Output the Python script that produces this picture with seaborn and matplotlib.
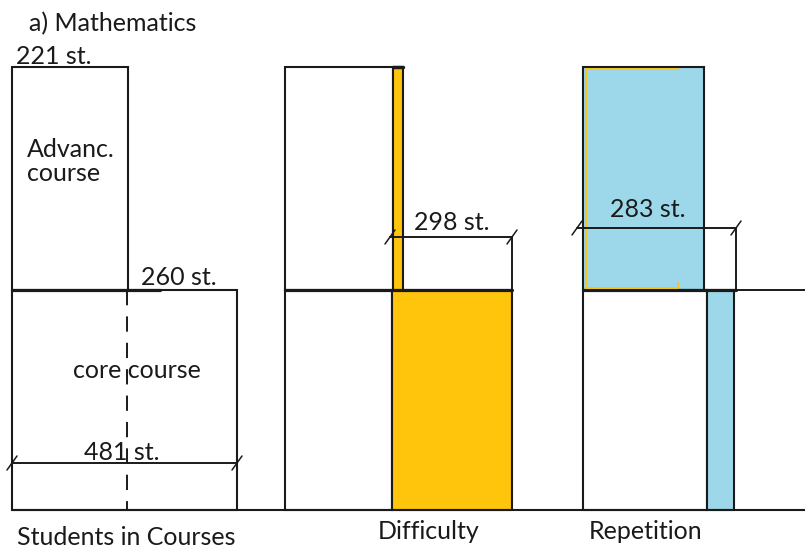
import numpy as np
import matplotlib
matplotlib.use("Agg")
import matplotlib.pyplot as plt
import seaborn as sns

# chart values
title = "a) Mathematics"
panel_names = ["Students in Courses", "Difficulty", "Repetition"]
course_names = ["Advanc.\ncourse", "core course"]
course_students = [221, 260]
total_students = 481
difficulty_students = 298
repetition_students = 283

# segment widths as drawn in each row (upper row / lower row), left to right
upper_widths = [[116], [108, 10], [121]]
lower_widths = [[225], [107, 120], [124, 27]]
upper_kinds = [["none"], ["none", "diff"], ["rep"]]
lower_kinds = [["none"], ["none", "diff"], ["none", "rep"]]
row_heights = [220, 223]  # lower, upper

# layout
panel_left = [12, 285, 583]
fill = {"none": "white", "diff": "#FFC40C", "rep": "#9CD8E9"}
ink = "#1a1a1a"

sns.set_theme(style="white")
plt.rcParams["font.family"] = ["Lato", "DejaVu Sans"]
plt.rcParams["lines.scale_dashes"] = False

fig = plt.figure(figsize=(8.05, 5.48), dpi=100)
ax = fig.add_axes([0, 0, 1, 1])
ax.set_xlim(0, 805)
ax.set_ylim(-38, 510)
ax.axis("off")

low_h, up_h = row_heights
for left, ws, ks in zip(panel_left, lower_widths, lower_kinds):
    lefts = left + np.concatenate([[0], np.cumsum(ws)[:-1]])
    ax.bar(lefts, low_h, width=ws, bottom=0, align="edge",
           color=[fill[k] for k in ks], edgecolor=ink, linewidth=1.5, zorder=2)
for left, ws, ks in zip(panel_left, upper_widths, upper_kinds):
    lefts = left + np.concatenate([[0], np.cumsum(ws)[:-1]])
    ax.bar(lefts, up_h, width=ws, bottom=low_h, align="edge",
           color=[fill[k] for k in ks], edgecolor=ink, linewidth=1.5, zorder=2)

# baseline and middle lines
ax.plot([12, 805], [0, 0], color=ink, lw=1.5, zorder=3)
ax.plot([12, 160], [low_h, low_h], color=ink, lw=2.3, zorder=3)
ax.plot([285, 512], [low_h, low_h], color=ink, lw=2.3, zorder=3)
ax.plot([583, 736], [low_h, low_h], color=ink, lw=2.3, zorder=3)
ax.plot([736, 805], [low_h, low_h], color=ink, lw=1.4, zorder=3)
# dark cap on the thin difficulty bar
ax.plot([393, 403], [low_h + up_h, low_h + up_h], color=ink, lw=2.5, zorder=3)

# dashed divider in the core course
div_x = panel_left[0] + upper_widths[0][0] - 1
ax.plot([div_x, div_x], [low_h, 0], color=ink, lw=1.4,
        linestyle=(0, (11, 8)), zorder=3)

# yellow trace inside the repetition box
yl = fill["diff"]
ax.plot([678, 586, 586, 678, 678], [441, 441, 222, 222, 227],
        color=yl, lw=1.3, zorder=3)


def dimension(x0, x1, y, drop=None):
    ax.plot([x0, x1], [y, y], color=ink, lw=1.4, zorder=4)
    for x in (x0, x1):
        ax.plot([x - 5, x + 5], [y - 7, y + 7], color=ink, lw=1.1, zorder=4)
    if drop is not None:
        ax.plot([x1, x1], [y, drop], color=ink, lw=1.4, zorder=4)


dimension(12, 237, 47)
dimension(390, 512, 273, drop=low_h)
dimension(577, 736, 282, drop=low_h)

fs = 18
tk = dict(color=ink, fontsize=fs, va="baseline", zorder=5)
ax.text(113, 510 - 31, title, ha="center", **tk)
ax.text(54, 510 - 64, f"{course_students[0]} st.", ha="center", **tk)
ax.text(27, 510 - 157, course_names[0].split("\n")[0], ha="left", **tk)
ax.text(27, 510 - 181, course_names[0].split("\n")[1], ha="left", **tk)
ax.text(179, 510 - 285, f"{course_students[1]} st.", ha="center", **tk)
ax.text(137, 510 - 378, course_names[1], ha="center", **tk)
ax.text(122, 510 - 460, f"{total_students} st.", ha="center", **tk)
ax.text(452, 510 - 230, f"{difficulty_students} st.", ha="center", **tk)
ax.text(648, 510 - 217, f"{repetition_students} st.", ha="center", **tk)
ax.text(126, 510 - 545, panel_names[0], ha="center", **tk)
ax.text(429, 510 - 539, panel_names[1], ha="center", **tk)
ax.text(646, 510 - 539, panel_names[2], ha="center", **tk)

fig.savefig("out.png", dpi=100, facecolor="white")
